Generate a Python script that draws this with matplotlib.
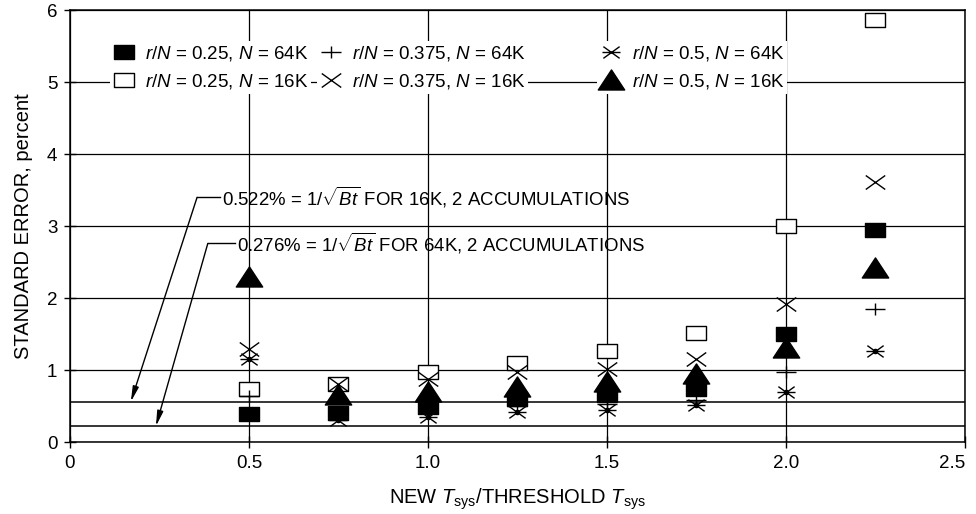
import matplotlib
matplotlib.use("Agg")
import matplotlib.pyplot as plt
from matplotlib.path import Path

plt.rcParams['font.family'] = ['Liberation Sans', 'DejaVu Sans']
plt.rcParams['mathtext.fontset'] = 'custom'
plt.rcParams['mathtext.rm'] = 'Liberation Sans'
plt.rcParams['mathtext.it'] = 'Liberation Sans:italic'
plt.rcParams['mathtext.bf'] = 'Liberation Sans:bold'

# ratio new Tsys / threshold Tsys
x_vals = [0.5, 0.75, 1.0, 1.25, 1.5, 1.75, 2.0, 2.25]

# standard error, percent
sq_64k = [0.39, 0.41, 0.49, 0.60, 0.65, 0.74, 1.50, 2.94]     # r/N = 0.25, N = 64K
sq_16k = [0.74, 0.81, 0.97, 1.10, 1.26, 1.51, 3.00, 5.87]     # r/N = 0.25, N = 16K
plus_64k = [0.64, 0.36, 0.45, 0.50, 0.53, 0.59, 0.98, 1.85]   # r/N = 0.375, N = 64K
x_16k = [1.29, 0.80, 0.88, 0.98, 1.02, 1.15, 1.92, 3.61]      # r/N = 0.375, N = 16K
ast_64k = [1.16, 0.31, 0.35, 0.42, 0.45, 0.52, 0.70, 1.26]    # r/N = 0.5, N = 64K
tri_16k = [2.30, 0.66, 0.70, 0.77, 0.84, 0.95, 1.30, 2.42]    # r/N = 0.5, N = 16K

ref_16k = 0.56   # 0.522% line as drawn
ref_64k = 0.22   # 0.276% line as drawn

labels = [
    r'$r/N$ = 0.25, $N$ = 64K',
    r'$r/N$ = 0.25, $N$ = 16K',
    r'$r/N$ = 0.375, $N$ = 64K',
    r'$r/N$ = 0.375, $N$ = 16K',
    r'$r/N$ = 0.5, $N$ = 64K',
    r'$r/N$ = 0.5, $N$ = 16K',
]

M, L = Path.MOVETO, Path.LINETO
rect = Path([(-1, -0.72), (1, -0.72), (1, 0.72), (-1, 0.72), (-1, -0.72)],
            [M, L, L, L, Path.CLOSEPOLY])
tri = Path([(-1, -0.72), (1, -0.72), (0, 0.8), (-1, -0.72)],
           [M, L, L, Path.CLOSEPOLY])
plus = Path([(-1, 0), (1, 0), (0, -0.6), (0, 0.6)], [M, L, M, L])
cross = Path([(-1, -0.72), (1, 0.72), (-1, 0.72), (1, -0.72)], [M, L, M, L])
aster = Path([(-1, 0), (1, 0), (-0.9, -0.65), (0.9, 0.65), (-0.9, 0.65), (0.9, -0.65)],
             [M, L, M, L, M, L])

fig = plt.figure(figsize=(9.76, 5.14), dpi=100)
ax = fig.add_axes([0.0717, 0.14, 0.917, 0.84])

ax.set_xlim(0, 2.5)
ax.set_ylim(0, 6)
ax.set_xticks([0, 0.5, 1.0, 1.5, 2.0, 2.5])
ax.set_xticklabels(['0', '0.5', '1.0', '1.5', '2.0', '2.5'])
ax.set_yticks(range(7))
ax.grid(True, color='black', lw=0.9)
ax.set_axisbelow(True)
for s in ax.spines.values():
    s.set_linewidth(1.1)
ax.tick_params(direction='inout', length=8, width=1, labelsize=13.5, pad=5)
ax.get_xticklabels()[-1].set_horizontalalignment('right')

ax.axhline(ref_16k, color='black', lw=1.1, zorder=1)
ax.axhline(ref_64k, color='black', lw=1.1, zorder=1)

h1, = ax.plot(x_vals, sq_16k, ls='none', marker=rect, ms=14, mfc='white', mec='black', mew=1.0, zorder=3)
h2, = ax.plot(x_vals, x_16k, ls='none', marker=cross, ms=14, mec='black', mew=1.0, zorder=4)
h3, = ax.plot(x_vals, sq_64k, ls='none', marker=rect, ms=14, mfc='black', mec='black', zorder=5)
h4, = ax.plot(x_vals, plus_64k, ls='none', marker=plus, ms=14, mec='black', mew=1.0, zorder=6)
h5, = ax.plot(x_vals, ast_64k, ls='none', marker=aster, ms=13, mec='black', mew=1.0, zorder=6)
ax.plot(x_vals, ast_64k, ls='none', marker='o', ms=3, color='black', zorder=6)
h6, = ax.plot(x_vals, tri_16k, ls='none', marker=tri, ms=19, mfc='black', mec='black', zorder=7)

# legend in three columns, white boxes hide the grid behind the text
cols = [((h3, h1), labels[0:2], 0.045),
        ((h4, h2), labels[2:4], 0.276),
        ((h5, h6), labels[4:6], 0.589)]
for hs, labs, xpos in cols:
    lg = ax.legend(hs, labs, loc='center left', bbox_to_anchor=(xpos, 0.868),
                   frameon=True, facecolor='white', edgecolor='none', framealpha=1,
                   fontsize=13.5, handlelength=1.2, handletextpad=0.5,
                   labelspacing=0.5, borderpad=0.15, borderaxespad=0, fancybox=False)
    lg.set_zorder(8)
    ax.add_artist(lg)

# annotations with leaders to the reference lines
notes = [
    (r'0.522% = 1/$\sqrt{Bt}$ FOR 16K, 2 ACCUMULATIONS', 0.355, 0.425, 3.40, 0.17, ref_16k),
    (r'0.276% = 1/$\sqrt{Bt}$ FOR 64K, 2 ACCUMULATIONS', 0.385, 0.466, 2.76, 0.24, ref_64k),
]
for txt, xc, xt, yt, xa, ya in notes:
    ax.text(xt, yt, txt, fontsize=13.4, ha='left', va='center', zorder=9)
    ax.plot([xc, xt - 0.006], [yt, yt], color='black', lw=1, zorder=9)
    ax.annotate('', xy=(xa, ya), xytext=(xc, yt),
                arrowprops=dict(arrowstyle='-|>,head_length=0.9,head_width=0.18',
                                color='black', lw=1, shrinkA=0, shrinkB=0), zorder=9)

ax.set_xlabel(r'NEW $T_{\mathrm{sys}}$/THRESHOLD $T_{\mathrm{sys}}$', fontsize=14.5, labelpad=11)
ax.set_ylabel('STANDARD ERROR, percent', fontsize=14.5, labelpad=10)

fig.savefig('out.png', dpi=100)
